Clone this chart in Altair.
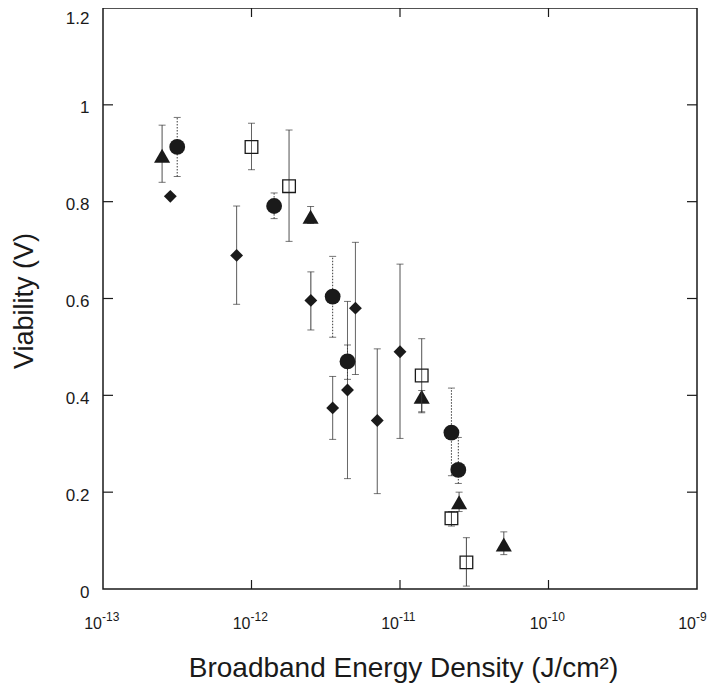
import altair as alt
import pandas as pd

# ---------------- data ----------------
tri_x = [2.5e-13, 2.5e-12, 1.4e-11, 2.5e-11, 5.0e-11]
tri_y = [0.895, 0.769, 0.397, 0.179, 0.092]
tri_lo = [0.84, 0.755, 0.364, 0.16, 0.071]
tri_hi = [0.958, 0.79, 0.41, 0.20, 0.118]

circ_x = [3.16e-13, 1.42e-12, 3.52e-12, 4.43e-12, 2.22e-11, 2.47e-11]
circ_y = [0.913, 0.791, 0.604, 0.47, 0.323, 0.246]
circ_lo = [0.852, 0.765, 0.52, 0.433, 0.234, 0.218]
circ_hi = [0.974, 0.818, 0.687, 0.504, 0.415, 0.313]

sq_x = [1.0e-12, 1.79e-12, 1.4e-11, 2.22e-11, 2.8e-11]
sq_y = [0.913, 0.832, 0.441, 0.146, 0.055]
sq_lo = [0.866, 0.718, 0.366, 0.13, 0.006]
sq_hi = [0.962, 0.948, 0.517, 0.16, 0.106]

dia_x = [2.84e-13, 7.94e-13, 2.51e-12, 3.52e-12, 4.43e-12, 5.01e-12, 7.03e-12, 1.0e-11]
dia_y = [0.811, 0.689, 0.596, 0.374, 0.411, 0.58, 0.348, 0.49]
dia_lo = [None, 0.588, 0.535, 0.309, 0.228, 0.443, 0.197, 0.311]
dia_hi = [None, 0.791, 0.655, 0.439, 0.594, 0.716, 0.496, 0.671]

x_tick_vals = [1e-13, 1e-12, 1e-11, 1e-10, 1e-9]
x_tick_exps = ["-13", "-12", "-11", "-10", "-9"]
y_tick_vals = [0, 0.2, 0.4, 0.6, 0.8, 1.0, 1.2]

x_title = "Broadband Energy Density (J/cm²)"
y_title = "Viability (V)"

# ---------------- layout / style ----------------
FONT = "Liberation Sans"
W, H = 594, 581
INK = "#1a1a1a"
BAR = "#3a3a3a"

xscale = alt.Scale(type="log", domain=[1e-13, 1e-9])
yscale = alt.Scale(domain=[0, 1.2], nice=False, zero=False)

x_axis = alt.Axis(
    title=x_title, labels=False, ticks=False, domain=False, grid=False,
    titleFont=FONT, titleFontSize=28, titleFontWeight="normal", titleColor=INK,
    titleX=W / 2 + 3, titleY=87, titleAlign="center", titleBaseline="alphabetic",
)
y_axis = alt.Axis(
    title=y_title, values=y_tick_vals, format="~f", ticks=False, domain=False,
    grid=False, labelFont=FONT, labelFontSize=17, labelColor=INK,
    labelPadding=14,
    labelOffset={"condition": {"test": "datum.value >= 1.19", "value": 10}, "value": 3},
    titleFont=FONT, titleFontSize=27, titleFontWeight="normal", titleColor=INK,
    titleAngle=-90, titleX=-71, titleY=H / 2 + 2, titleAlign="center",
    titleBaseline="alphabetic",
)


def X(field):
    return alt.X(field, type="quantitative", scale=xscale, axis=x_axis)


def Y(field):
    return alt.Y(field, type="quantitative", scale=yscale, axis=y_axis)


series = [
    # x, y, lo, hi, shape, size, filled, dash
    (dia_x, dia_y, dia_lo, dia_hi, "diamond", 165, True, [1, 0]),
    (tri_x, tri_y, tri_lo, tri_hi, "triangle-up", 260, True, [1, 0]),
    (sq_x, sq_y, sq_lo, sq_hi, "square", 160, False, [1, 0]),
    (circ_x, circ_y, circ_lo, circ_hi, "circle", 250, True, [1.5, 1.5]),
]

layers = []
for xs, ys, los, his, shape, size, filled, dash in series:
    df = pd.DataFrame({"x": xs, "y": ys, "lo": los, "hi": his})
    err = df.dropna(subset=["lo", "hi"])
    caps = pd.concat([
        pd.DataFrame({"x": err["x"], "c": err["lo"]}),
        pd.DataFrame({"x": err["x"], "c": err["hi"]}),
    ])
    bars = alt.Chart(err).mark_rule(color=BAR, strokeWidth=1, strokeDash=dash).encode(
        x=X("x"), y=Y("lo"), y2="hi",
    )
    capm = alt.Chart(caps).mark_tick(orient="horizontal", size=7, thickness=1, color=BAR).encode(
        x=X("x"), y=Y("c")
    )
    if filled:
        pts = alt.Chart(df).mark_point(shape=shape, size=size, filled=True, fill=INK,
                                       opacity=1, strokeWidth=0)
    else:
        pts = alt.Chart(df).mark_point(shape=shape, size=size, filled=False, stroke=INK,
                                       strokeWidth=1.3, opacity=1)
    pts = pts.encode(x=X("x"), y=Y("y"))
    layers += [bars, capm, pts]

# inward tick marks on all four sides
xt = pd.DataFrame({"v": x_tick_vals[1:-1]})
yt = pd.DataFrame({"v": y_tick_vals[1:-1]})
tick_bottom = alt.Chart(xt).mark_rule(color=INK, strokeWidth=1.2).encode(
    x=X("v"), y=alt.value(H), y2=alt.value(H - 9))
tick_top = alt.Chart(xt).mark_rule(color=INK, strokeWidth=1.2).encode(
    x=X("v"), y=alt.value(0), y2=alt.value(9))
tick_left = alt.Chart(yt).mark_rule(color=INK, strokeWidth=1.2).encode(
    y=Y("v"), x=alt.value(0), x2=alt.value(10))
tick_right = alt.Chart(yt).mark_rule(color=INK, strokeWidth=1.2).encode(
    y=Y("v"), x=alt.value(W), x2=alt.value(W - 10))

# x tick labels: "10" with a superscript exponent
xl = pd.DataFrame({"v": x_tick_vals, "base": ["10"] * len(x_tick_vals), "exp": x_tick_exps})
lab_base = alt.Chart(xl).mark_text(
    font=FONT, fontSize=16, color=INK, align="right", baseline="alphabetic", dx=-1, dy=40
).encode(x=X("v"), y=alt.value(H), text="base:N")
lab_exp = alt.Chart(xl).mark_text(
    font=FONT, fontSize=12, color=INK, align="left", baseline="alphabetic", dx=-1, dy=32
).encode(x=X("v"), y=alt.value(H), text="exp:N")

chart = alt.layer(
    *layers, tick_bottom, tick_top, tick_left, tick_right, lab_base, lab_exp
).properties(
    width=W, height=H,
    background="white",
    autosize=alt.AutoSizeParams(type="none"),
    padding={"left": 95, "top": 0, "right": 15, "bottom": 94},
).configure_view(
    stroke=INK, strokeWidth=1.5
)

chart.save("out.html", embed_options={"renderer": "svg", "actions": False})
